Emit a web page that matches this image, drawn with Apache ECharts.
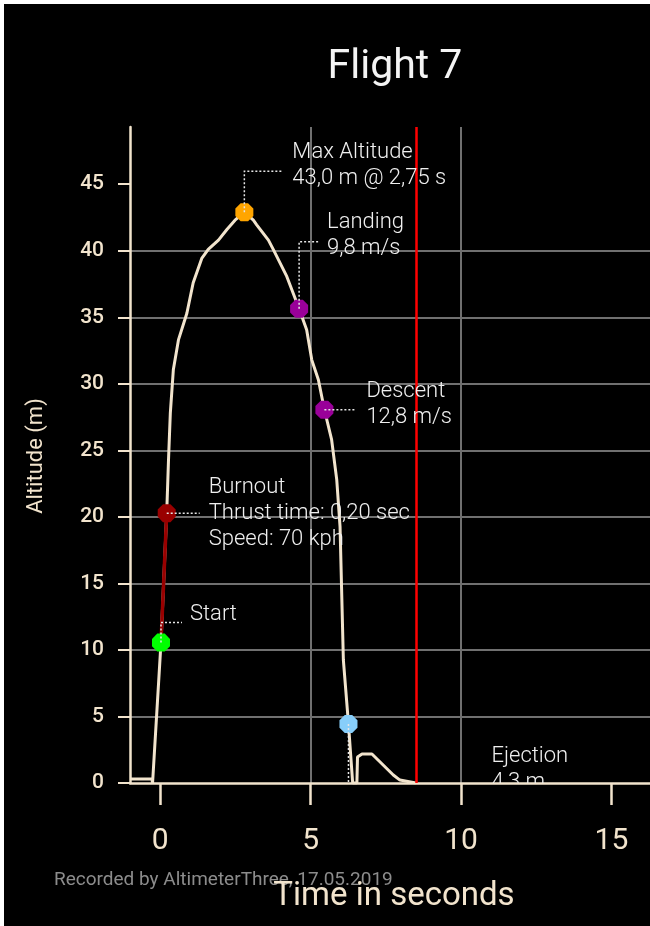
<!DOCTYPE html>
<html><head><meta charset="utf-8">
<script src="https://cdn.jsdelivr.net/npm/echarts@6/dist/echarts.min.js"></script>
<style>
html,body{margin:0;padding:0;background:#fff;width:650px;height:926px;overflow:hidden}
#c{position:absolute;left:4px;top:4px;width:646px;height:922px;background:#000}
</style></head><body><div id="c"></div>
<script>
// ---- data ----
const timeS = [-1, -0.27, -0.25, 0.03, 0.22, 0.28, 0.34, 0.44, 0.61, 0.89, 1.1, 1.39, 1.6, 1.94, 2.22, 2.49, 2.8,
  3.1, 3.21, 3.6, 3.76, 4.21, 4.62, 4.87, 5.04, 5.26, 5.46, 5.7, 5.87, 5.98, 6.09, 6.26, 6.4,
  6.54, 6.56, 6.71, 7.04, 7.75, 7.97, 8.5];
const altitudeM = [0.3, 0.3, 0, 10.55, 20.28, 24.3, 27.8, 31.05, 33.3, 35.3, 37.6, 39.45, 40.1, 40.8, 41.6, 42.3, 42.9,
  42.3, 41.95, 40.8, 40.1, 38.07, 35.64, 34.06, 31.8, 30.3, 28.05, 25.8, 22.8, 19.27, 9.25, 4.44, 0,
  0, 1.95, 2.18, 2.18, 0.6, 0.22, 0];
const thrustTime = [0.03, 0.22];
const thrustAlt = [10.55, 20.28];
const eventX = [0.03, 0.22, 2.8, 4.62, 5.46, 6.26];
const eventY = [10.55, 20.28, 42.9, 35.64, 28.05, 4.44];
const eventLabels = [
  'Start',
  'Burnout\nThrust time: 0,20 sec\nSpeed: 70 kph',
  'Max Altitude\n43,0 m @ 2,75 s',
  'Landing\n9,8 m/s',
  'Descent\n12,8 m/s',
  'Ejection\n4,3 m'
];
const recordingEnd = 8.5;
const xTicks = [0, 5, 10, 15];
const yTicks = [0, 5, 10, 15, 20, 25, 30, 35, 40, 45];

// ---- styles ----
const eventColors = ['#00ff00', '#990000', '#ffa500', '#990099', '#990099', '#87cefa'];
// leader layout: dy = vertical leg, len = horizontal leg, gap = text offset, ty = text centre vs leader
const leaderLayout = [
  {dy: -20, len: 21, gap: 29, ty: -8},
  {dy: 0, len: 33, gap: 42, ty: 0},
  {dy: -41, len: 37, gap: 48, ty: -6},
  {dy: -67, len: 19, gap: 28, ty: -6},
  {dy: 0, len: 32, gap: 42, ty: -5},
  {dy: 62, len: 135, gap: 143, ty: -16}
];
const beige = '#f2e4cd';
const gridGray = '#707070';
const octagon = 'path://M29.3,0 L70.7,0 L100,29.3 L100,70.7 L70.7,100 L29.3,100 L0,70.7 L0,29.3 Z';

const curve = timeS.map((t, i) => [t, altitudeM[i]]);
const thrust = thrustTime.map((t, i) => [t, thrustAlt[i]]);
const events = eventX.map((x, i) => ({value: [x, eventY[i]], itemStyle: {color: eventColors[i], opacity: 1}}));
const eventData = eventX.map((x, i) => [x, eventY[i], i]);

const chart = echarts.init(document.getElementById('c'), null, {renderer: 'canvas'});
chart.setOption({
  backgroundColor: '#000',
  animation: false,
  grid: {left: 126, right: 0, top: 123, bottom: 143, containLabel: false},
  xAxis: {
    type: 'value', min: -1, max: 16.28, splitNumber: 3,
    axisLine: {show: true, onZero: false, lineStyle: {color: beige, width: 2.5}},
    axisTick: {show: true, customValues: xTicks, length: 22, lineStyle: {color: beige, width: 2.5}},
    axisLabel: {customValues: xTicks, color: beige, fontSize: 30, margin: 43, fontFamily: 'Roboto'},
    splitLine: {show: true, showMinLine: false, showMaxLine: false, lineStyle: {color: gridGray, width: 2}}
  },
  yAxis: {
    type: 'value', min: 0, max: 49.3, splitNumber: 10,
    axisLine: {show: true, onZero: false, lineStyle: {color: beige, width: 2.5}},
    axisTick: {show: true, customValues: yTicks, length: 12, lineStyle: {color: beige, width: 2}},
    axisLabel: {customValues: yTicks, color: beige, fontSize: 21, fontWeight: 500, margin: 26, fontFamily: 'Roboto'},
    splitLine: {show: true, showMinLine: false, showMaxLine: false, lineStyle: {color: gridGray, width: 2}}
  },
  graphic: [
    {type: 'text', x: 391, y: 64, style: {text: 'Flight 7', fill: '#f4f4f4', fontSize: 41, fontFamily: 'Roboto', align: 'center', verticalAlign: 'middle'}},
    {type: 'text', x: 32, y: 452, rotation: Math.PI / 2, style: {text: 'Altitude (m)', fill: beige, fontSize: 22, fontFamily: 'Roboto', align: 'center', verticalAlign: 'middle'}},
    {type: 'text', x: 50, y: 876, style: {text: 'Recorded by AltimeterThree, 17.05.2019', fill: '#8c8c8c', fontSize: 19, fontFamily: 'Roboto', align: 'left', verticalAlign: 'middle'}},
    {type: 'text', x: 390, y: 893, style: {text: 'Time in seconds', fill: beige, fontSize: 33, fontFamily: 'Roboto', align: 'center', verticalAlign: 'middle'}}
  ],
  series: [
    {
      type: 'line', data: curve, showSymbol: false, z: 3,
      lineStyle: {color: beige, width: 3},
      markLine: {
        silent: true, symbol: ['none', 'none'], label: {show: false},
        lineStyle: {color: '#ff0000', width: 2.5, type: 'solid'},
        data: [{xAxis: recordingEnd}]
      }
    },
    {type: 'line', data: thrust, showSymbol: false, z: 4, lineStyle: {color: '#990000', width: 3.5}},
    {type: 'scatter', data: events, symbol: octagon, symbolSize: 18, z: 5},
    {
      type: 'custom', data: eventData, clip: true, z: 6,
      renderItem: function (params, api) {
        const i = api.value(2);
        const p = api.coord([api.value(0), api.value(1)]);
        const L = leaderLayout[i];
        const cy = p[1] + L.dy;
        const pts = L.dy !== 0 ? [[p[0], p[1]], [p[0], cy], [p[0] + L.len, cy]] : [[p[0], p[1]], [p[0] + L.len, cy]];
        return {
          type: 'group',
          children: [
            {type: 'polyline', shape: {points: pts}, style: {stroke: '#e6e6e6', lineWidth: 1.5, lineDash: [2, 2], fill: null}},
            {type: 'text', x: p[0] + L.gap, y: cy + L.ty, style: {text: eventLabels[i], fill: '#efefef', fontSize: 22, fontFamily: 'Roboto', fontWeight: 300, lineHeight: 26, align: 'left', verticalAlign: 'middle'}}
          ]
        };
      }
    }
  ]
});
</script></body></html>
